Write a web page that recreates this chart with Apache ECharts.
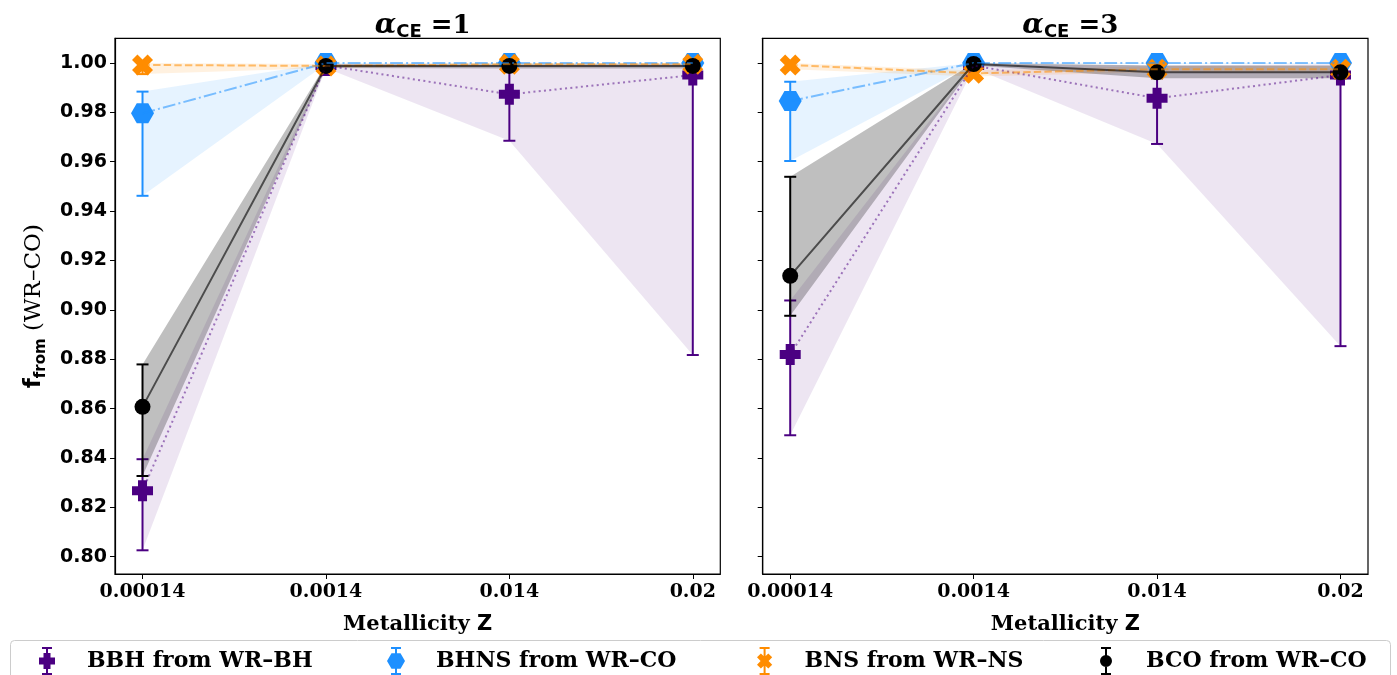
<!DOCTYPE html>
<html>
<head>
<meta charset="utf-8">
<script src="https://cdn.jsdelivr.net/npm/echarts@6/dist/echarts.min.js"></script>
<style>
html,body{margin:0;padding:0;background:#fff;}
#chart{width:1397px;height:675px;}
</style>
</head>
<body>
<div id="chart"></div>
<script>
// ---------------- data ----------------
const categories = ['0.00014', '0.0014', '0.014', '0.02'];
const yTicks = [0.80, 0.82, 0.84, 0.86, 0.88, 0.90, 0.92, 0.94, 0.96, 0.98, 1.00];
const panelTitles = ['1', '3'];
const seriesNames = ['BBH from WR\u2013BH', 'BHNS from WR\u2013CO', 'BNS from WR\u2013NS', 'BCO from WR\u2013CO'];

// alpha_CE = 1
const bbhA1   = [0.8267, 0.9990, 0.9873, 0.9951];
const bbhA1Lo = [0.8026, 0.9980, 0.9685, 0.8817];
const bbhA1Hi = [0.8395, 0.9996, 0.9992, 0.9995];
const bhnsA1   = [0.9796, 1.0000, 1.0000, 1.0000];
const bhnsA1Lo = [0.9462, 0.9996, 0.9996, 0.9996];
const bhnsA1Hi = [0.9884, 1.0000, 1.0000, 1.0000];
const bnsA1   = [0.9992, 0.9988, 0.9995, 0.9995];
const bnsA1Lo = [0.9955, 0.9980, 0.9988, 0.9988];
const bnsA1Hi = [1.0000, 0.9996, 1.0000, 1.0000];
const bcoA1   = [0.8607, 0.9988, 0.9988, 0.9988];
const bcoA1Lo = [0.8327, 0.9980, 0.9978, 0.9978];
const bcoA1Hi = [0.8779, 0.9995, 0.9995, 0.9995];

// alpha_CE = 3
const bbhA3   = [0.8819, 0.9990, 0.9857, 0.9951];
const bbhA3Lo = [0.8492, 0.9980, 0.9672, 0.8853];
const bbhA3Hi = [0.9038, 0.9996, 0.9990, 0.9995];
const bhnsA3   = [0.9846, 1.0000, 1.0000, 1.0000];
const bhnsA3Lo = [0.9603, 0.9996, 0.9996, 0.9996];
const bhnsA3Hi = [0.9924, 1.0000, 1.0000, 1.0000];
const bnsA3   = [0.9992, 0.9958, 0.9975, 0.9975];
const bnsA3Lo = [0.9975, 0.9945, 0.9962, 0.9962];
const bnsA3Hi = [1.0000, 0.9970, 0.9988, 0.9988];
const bcoA3   = [0.9138, 0.9996, 0.9962, 0.9962];
const bcoA3Lo = [0.8976, 0.9990, 0.9938, 0.9938];
const bcoA3Hi = [0.9539, 1.0000, 0.9990, 0.9990];

const panels = [
  [[bbhA1, bbhA1Lo, bbhA1Hi], [bhnsA1, bhnsA1Lo, bhnsA1Hi], [bnsA1, bnsA1Lo, bnsA1Hi], [bcoA1, bcoA1Lo, bcoA1Hi]],
  [[bbhA3, bbhA3Lo, bbhA3Hi], [bhnsA3, bhnsA3Lo, bhnsA3Hi], [bnsA3, bnsA3Lo, bnsA3Hi], [bcoA3, bcoA3Lo, bcoA3Hi]]
];

// ---------------- styles ----------------
const PLUS = 'path://M-4.3,-10 H4.3 V-4.3 H10 V4.3 H4.3 V10 H-4.3 V4.3 H-10 V-4.3 H-4.3 Z';
const HEX = 'path://M-10,0 L-5,-8.66 L5,-8.66 L10,0 L5,8.66 L-5,8.66 Z';
const XMARK = 'path://M4.6,-9.55 L9.55,-4.6 L4.95,0 L9.55,4.6 L4.6,9.55 L0,4.95 L-4.6,9.55 L-9.55,4.6 L-4.95,0 L-9.55,-4.6 L-4.6,-9.55 L0,-4.95 Z';
const BAR = 'M9,0 H11 V28 H9 Z M5,0 H15 V2 H5 Z M5,26 H15 V28 H5 Z ';
const legendIcons = [
  'path://' + BAR + 'M6.5,6 H13.5 V10.5 H18 V17.5 H13.5 V22 H6.5 V17.5 H2 V10.5 H6.5 Z',
  'path://' + BAR + 'M1,14 L5.5,6.2 L14.5,6.2 L19,14 L14.5,21.8 L5.5,21.8 Z',
  'path://' + BAR + 'M13.7,6.4 L17.6,10.3 L14,14 L17.6,17.7 L13.7,21.6 L10,18 L6.3,21.6 L2.4,17.7 L6,14 L2.4,10.3 L6.3,6.4 L10,10 Z',
  'path://' + BAR + 'M4,14 A6,6 0 1 1 16,14 A6,6 0 1 1 4,14 Z'
];
const styles = [
  {color: '#4B0082', line: 'rgba(75,0,130,0.5)', dash: [2, 3.3], band: 'rgba(75,0,130,0.10)', symbol: PLUS, size: 21},
  {color: '#1E90FF', line: 'rgba(30,144,255,0.55)', dash: [12.8, 3.2, 2, 3.2], band: 'rgba(30,144,255,0.11)', symbol: HEX, size: [23, 20]},
  {color: '#FF8C00', line: 'rgba(255,140,0,0.55)', dash: [7.4, 3.2], band: 'rgba(255,140,0,0.12)', symbol: XMARK, size: 21},
  {color: '#000000', line: 'rgba(0,0,0,0.6)', dash: 'solid', band: 'rgba(0,0,0,0.25)', symbol: 'circle', size: 16}
];

const gridLefts = [115, 762.7];
const gridTop = 38.3, gridW = 605.3, gridH = 535.7;

const grids = gridLefts.map(l => ({left: l, top: gridTop, width: gridW, height: gridH,
  show: true, borderColor: '#000', borderWidth: 1.2, backgroundColor: 'transparent', outerBoundsMode: 'none'}));

const xAxes = gridLefts.map((l, p) => ({
  type: 'value', gridIndex: p, min: -0.15, max: 3.15,
  axisLine: {show: true, onZero: false, lineStyle: {color: '#000', width: 1.2}},
  axisTick: {show: true, customValues: [0, 1, 2, 3], length: 5, lineStyle: {color: '#000', width: 1}},
  axisLabel: {customValues: [0, 1, 2, 3], formatter: v => categories[Math.round(v)],
    fontFamily: 'DejaVu Serif', fontWeight: 'bold', fontSize: 19, color: '#000', margin: 9},
  splitLine: {show: false},
  name: '{a|Metallicity }{b|Z}', nameLocation: 'middle', nameGap: 40,
  nameTextStyle: {rich: {
    a: {fontFamily: 'DejaVu Serif', fontWeight: 'bold', fontSize: 21, color: '#000'},
    b: {fontFamily: 'DejaVu Sans', fontWeight: 'bold', fontSize: 21, color: '#000'}
  }}
}));

const yAxes = gridLefts.map((l, p) => ({
  type: 'value', gridIndex: p, min: 0.793, max: 1.010,
  axisLine: {show: true, onZero: false, lineStyle: {color: '#000', width: 1.2}},
  axisTick: {show: true, customValues: yTicks, length: 5, lineStyle: {color: '#000', width: 1}},
  axisLabel: {show: p === 0, customValues: yTicks, formatter: v => v.toFixed(2),
    fontFamily: 'DejaVu Sans', fontWeight: 'bold', fontSize: 19, color: '#000', margin: 8},
  splitLine: {show: false},
  name: p === 0 ? '{f|f}{s|from}{n| (WR\u2013CO)}' : '',
  nameLocation: 'middle', nameRotate: 90, nameGap: 66,
  nameTextStyle: {rich: {
    f: {fontFamily: 'DejaVu Sans', fontWeight: 'bold', fontSize: 23, color: '#000', lineHeight: 30},
    s: {fontFamily: 'DejaVu Sans', fontWeight: 'bold', fontSize: 15, color: '#000', lineHeight: 16, verticalAlign: 'bottom'},
    n: {fontFamily: 'DejaVu Serif', fontSize: 23, color: '#000', lineHeight: 30}
  }}
}));

const series = [];
panels.forEach((panel, p) => {
  panel.forEach((d, k) => {
    const [vals, lo, hi] = d;
    const st = styles[k];
    // shaded band
    series.push({
      type: 'custom', xAxisIndex: p, yAxisIndex: p, silent: true,
      data: [[0, vals[0]]],
      renderItem: (params, api) => {
        const pts = lo.map((v, i) => api.coord([i, v]))
          .concat(hi.map((v, i) => api.coord([i, v])).reverse());
        return {type: 'polygon', shape: {points: pts}, style: {fill: st.band}};
      }
    });
    // connecting line
    series.push({
      type: 'line', xAxisIndex: p, yAxisIndex: p, silent: true, showSymbol: false,
      data: vals.map((v, i) => [i, v]),
      lineStyle: {color: st.line, width: 2, type: st.dash}
    });
    // error bars
    series.push({
      type: 'custom', xAxisIndex: p, yAxisIndex: p, silent: true,
      data: vals.map((v, i) => [i, lo[i], hi[i]]),
      encode: {x: 0, y: [1, 2]},
      renderItem: (params, api) => {
        const x = api.value(0);
        const a = api.coord([x, api.value(1)]);
        const b = api.coord([x, api.value(2)]);
        const c = 6;
        const s = {stroke: st.color, lineWidth: 2};
        return {type: 'group', children: [
          {type: 'line', shape: {x1: a[0], y1: a[1], x2: b[0], y2: b[1]}, style: s},
          {type: 'line', shape: {x1: a[0] - c, y1: a[1], x2: a[0] + c, y2: a[1]}, style: s},
          {type: 'line', shape: {x1: b[0] - c, y1: b[1], x2: b[0] + c, y2: b[1]}, style: s}
        ]};
      }
    });
    // markers
    series.push({
      type: 'scatter', name: seriesNames[k], xAxisIndex: p, yAxisIndex: p, silent: true,
      data: vals.map((v, i) => [i, v]),
      symbol: st.symbol, symbolSize: st.size,
      itemStyle: {color: st.color, opacity: 1}
    });
  });
});

const titles = panelTitles.map((t, p) => ({
  text: '{a|\u03B1}{b|CE}{c| =' + t + '}',
  left: gridLefts[p] + gridW / 2, textAlign: 'center', top: 6,
  textStyle: {rich: {
    a: {fontFamily: 'DejaVu Serif', fontStyle: 'italic', fontWeight: 'bold', fontSize: 28, color: '#000', lineHeight: 30},
    b: {fontFamily: 'DejaVu Sans', fontWeight: 'bold', fontSize: 18, color: '#000', lineHeight: 18, verticalAlign: 'bottom'},
    c: {fontFamily: 'DejaVu Serif', fontWeight: 'bold', fontSize: 26, color: '#000', lineHeight: 30}
  }}
}));

const iconLefts = [34, 382, 752, 1095];
const legends = seriesNames.map((n, k) => ({
  data: [{name: n, icon: legendIcons[k]}],
  left: iconLefts[k], top: 642, itemWidth: 20, itemHeight: 28, selectedMode: false,
  textStyle: {fontFamily: 'DejaVu Serif', fontWeight: 'bold', fontSize: 22, color: '#000', padding: [0, 0, 0, 25]}
}));

const chart = echarts.init(document.getElementById('chart'), null, {renderer: 'canvas'});
chart.setOption({
  animation: false,
  backgroundColor: '#fff',
  title: titles,
  grid: grids,
  xAxis: xAxes,
  yAxis: yAxes,
  legend: legends,
  graphic: [{type: 'rect', left: 10, top: 640, z: -10, shape: {width: 1380, height: 42, r: 4},
    style: {fill: '#fff', stroke: '#cccccc', lineWidth: 1}}],
  series: series
});
</script>
</body>
</html>
